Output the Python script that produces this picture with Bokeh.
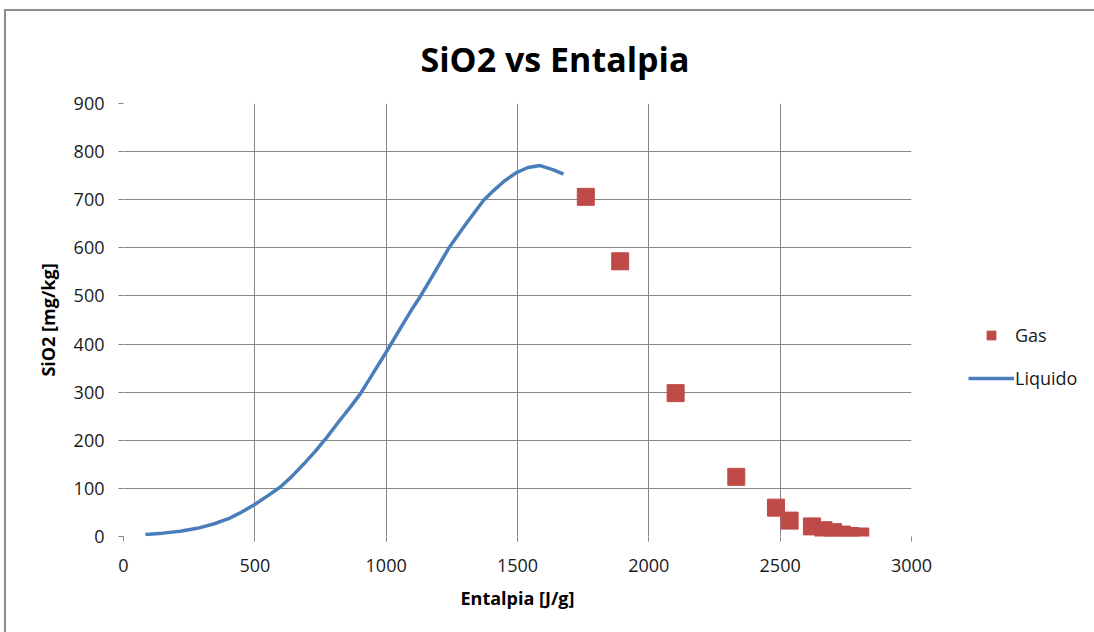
from bokeh.plotting import figure
from bokeh.models import Range1d, Legend, LegendItem, FixedTicker
from bokeh.embed import file_html
from bokeh.resources import INLINE

# Liquid phase: SiO2 solubility along enthalpy
liq_h = [83, 150, 216, 280, 343, 400, 444, 501, 550, 597, 641, 685, 730,
         774, 820, 865, 901, 950, 1001, 1050, 1100, 1130, 1180, 1238, 1300,
         1371, 1409, 1450, 1498, 1540, 1586, 1637, 1675]
liq_sio2 = [4, 7, 11, 17, 26, 37, 49, 67, 85, 103, 125, 150, 177,
            206, 239, 270, 296, 339, 384, 429, 474, 499, 545, 599, 647,
            699, 719, 739, 757, 767, 771, 762, 753]

# Gas phase samples
gas_h = [1760, 1891, 2102, 2333, 2484, 2536, 2621, 2665, 2701, 2735, 2767, 2805]
gas_sio2 = [706, 572, 298, 124, 60, 33, 21, 13, 9, 4, 1, 0]

x_ticks = [0, 500, 1000, 1500, 2000, 2500, 3000]
y_ticks = [0, 100, 200, 300, 400, 500, 600, 700, 800, 900]

FONT = "Open Sans"

p = figure(frame_width=788, frame_height=433,
           output_backend="svg", toolbar_location=None,
           x_range=Range1d(0, 3000), y_range=Range1d(0, 900),
           min_border_left=117, min_border_right=183,
           min_border_top=92, min_border_bottom=96,
           title="SiO2 vs Entalpia")
p.styles = {"margin-left": "4px", "margin-top": "9px",
            "border-left": "2px solid #8c8c8c", "border-top": "2px solid #8c8c8c"}

p.title.text_font = FONT
p.title.text_font_size = "34px"
p.title.text_font_style = "bold"
p.title.align = "left"
p.title.text_color = "#000000"
p.title.offset = 297
p.title.standoff = 43

p.outline_line_color = None

for ax in (p.xaxis, p.yaxis):
    ax.axis_line_color = None
    ax.major_tick_line_color = "#868686"
    ax.major_tick_out = 5
    ax.major_tick_in = 0
    ax.minor_tick_line_color = None
    ax.major_label_text_font = FONT
    ax.major_label_text_font_size = "18px"
    ax.major_label_text_color = "#1a1a1a"
    ax.axis_label_text_font = FONT
    ax.axis_label_text_font_size = "18px"
    ax.axis_label_text_font_style = "bold"
    ax.axis_label_text_color = "#000000"

p.xaxis.ticker = FixedTicker(ticks=x_ticks)
p.yaxis.ticker = FixedTicker(ticks=y_ticks)
p.xaxis.axis_label = "Entalpia [J/g]"
p.yaxis.axis_label = "SiO2 [mg/kg]"
p.xaxis.major_label_standoff = 17
p.yaxis.major_label_standoff = 14
p.xaxis.axis_label_standoff = 11
p.yaxis.axis_label_standoff = 11

p.xgrid.ticker = FixedTicker(ticks=x_ticks)
p.ygrid.ticker = FixedTicker(ticks=y_ticks)
for g in (p.xgrid, p.ygrid):
    g.grid_line_color = "#868686"
    g.grid_line_width = 1

gas = p.scatter(gas_h, gas_sio2, marker="square", size=17,
                fill_color="#BE4B48", line_color="#BE4B48")
liq = p.line(liq_h, liq_sio2, line_color="#4A7EBB", line_width=3.5)

legend = Legend(items=[LegendItem(label="Gas", renderers=[gas]),
                       LegendItem(label="Liquido", renderers=[liq])],
                location=(57, 146), orientation="vertical", padding=0, margin=0,
                background_fill_alpha=0, border_line_color=None,
                label_text_font=FONT, label_text_font_size="18px",
                label_text_color="#1a1a1a", glyph_width=46, glyph_height=22,
                spacing=19, label_standoff=1)
p.add_layout(legend, "right")

open("out.html", "w").write(file_html(p, INLINE))
